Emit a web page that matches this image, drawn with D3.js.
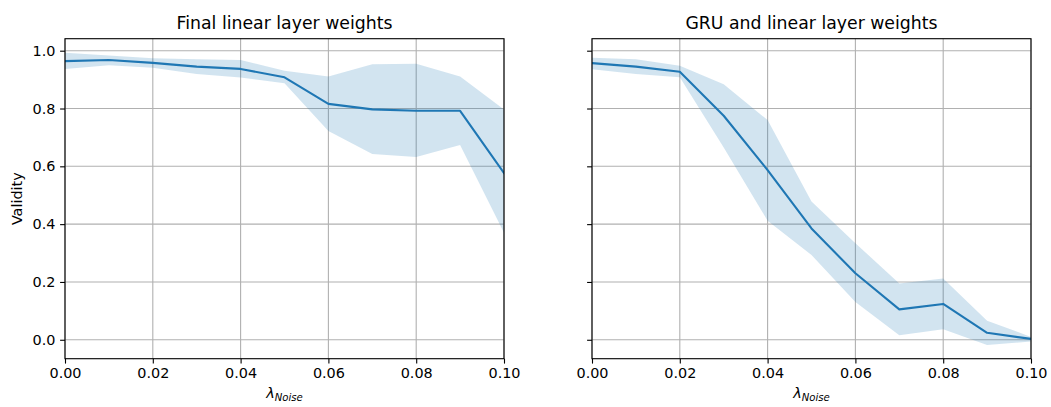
<!DOCTYPE html>
<html>
<head>
<meta charset="utf-8">
<script src="https://cdn.jsdelivr.net/npm/d3@7"></script>
<style>
  body { margin: 0; background: #fff; }
  svg { font-family: "DejaVu Sans", sans-serif; }
</style>
</head>
<body>
<svg id="chart" width="1051" height="407"></svg>
<script>
const noise = [0.00, 0.01, 0.02, 0.03, 0.04, 0.05, 0.06, 0.07, 0.08, 0.09, 0.10];

const linearMean  = [0.964, 0.968, 0.958, 0.945, 0.937, 0.908, 0.816, 0.797, 0.792, 0.792, 0.577];
const linearUpper = [0.993, 0.983, 0.974, 0.970, 0.968, 0.931, 0.911, 0.953, 0.955, 0.911, 0.797];
const linearLower = [0.937, 0.950, 0.941, 0.919, 0.907, 0.887, 0.722, 0.643, 0.632, 0.674, 0.370];

const gruMean  = [0.957, 0.945, 0.927, 0.775, 0.587, 0.385, 0.230, 0.105, 0.124, 0.024, 0.003];
const gruUpper = [0.976, 0.970, 0.948, 0.884, 0.760, 0.478, 0.334, 0.195, 0.212, 0.066, 0.010];
const gruLower = [0.936, 0.919, 0.908, 0.665, 0.412, 0.293, 0.131, 0.016, 0.036, -0.018, -0.006];

const titles = ["Final linear layer weights", "GRU and linear layer weights"];
const xTicks = [0.00, 0.02, 0.04, 0.06, 0.08, 0.10];
const yTicks = [0.0, 0.2, 0.4, 0.6, 0.8, 1.0];

const panels = [
  { title: titles[0], mean: linearMean, upper: linearUpper, lower: linearLower, x0: 65,  x1: 504, yLabels: true },
  { title: titles[1], mean: gruMean,    upper: gruUpper,    lower: gruLower,    x0: 592, x1: 1031, yLabels: false }
];

const plotTop = 38.7, plotBottom = 358.7;
const svg = d3.select("#chart");
const blue = "#1f77b4";
const tickFont = "14.4px";

const y = d3.scaleLinear().domain([-0.0655, 1.0415]).range([plotBottom, plotTop]);

panels.forEach(p => {
  const x = d3.scaleLinear().domain([0, 0.1]).range([p.x0, p.x1]);
  const g = svg.append("g");

  // grid
  g.selectAll(".vg").data(xTicks).enter().append("line")
    .attr("x1", d => x(d)).attr("x2", d => x(d))
    .attr("y1", plotTop).attr("y2", plotBottom)
    .attr("stroke", "#b0b0b0").attr("stroke-width", 1.1);
  g.selectAll(".hg").data(yTicks).enter().append("line")
    .attr("x1", p.x0).attr("x2", p.x1)
    .attr("y1", d => y(d)).attr("y2", d => y(d))
    .attr("stroke", "#b0b0b0").attr("stroke-width", 1.1);

  const data = noise.map((n, i) => ({ n, m: p.mean[i], u: p.upper[i], l: p.lower[i] }));

  const clipId = "clip" + p.x0;
  svg.append("clipPath").attr("id", clipId).append("rect")
    .attr("x", p.x0).attr("y", plotTop).attr("width", p.x1 - p.x0).attr("height", plotBottom - plotTop);

  g.append("path").datum(data)
    .attr("clip-path", `url(#${clipId})`)
    .attr("d", d3.area().x(d => x(d.n)).y0(d => y(d.l)).y1(d => y(d.u)))
    .attr("fill", blue).attr("fill-opacity", 0.2);

  g.append("path").datum(data)
    .attr("clip-path", `url(#${clipId})`)
    .attr("d", d3.line().x(d => x(d.n)).y(d => y(d.m)))
    .attr("fill", "none").attr("stroke", blue).attr("stroke-width", 2.1)
    .attr("stroke-linejoin", "round").attr("stroke-linecap", "square");

  // axes
  const xAxis = d3.axisBottom(x).tickValues(xTicks).tickFormat(d3.format(".2f")).tickSize(4.9).tickPadding(4.6);
  const ax = g.append("g").attr("transform", `translate(0,${plotBottom})`).call(xAxis);
  ax.select(".domain").remove();
  ax.selectAll("line").attr("stroke", "#000").attr("stroke-width", 1.1);
  ax.selectAll("text").attr("font-size", tickFont).attr("fill", "#000").attr("font-family", "DejaVu Sans");

  const yAxis = d3.axisLeft(y).tickValues(yTicks).tickFormat(p.yLabels ? d3.format(".1f") : () => "").tickSize(4.9).tickPadding(4.6);
  const ay = g.append("g").attr("transform", `translate(${p.x0},0)`).call(yAxis);
  ay.select(".domain").remove();
  ay.selectAll("line").attr("stroke", "#000").attr("stroke-width", 1.1);
  ay.selectAll("text").attr("font-size", tickFont).attr("fill", "#000").attr("font-family", "DejaVu Sans");

  // frame
  g.append("rect").attr("x", p.x0).attr("y", plotTop).attr("width", p.x1 - p.x0).attr("height", plotBottom - plotTop)
    .attr("fill", "none").attr("stroke", "#000").attr("stroke-width", 1.1);

  // title
  g.append("text").attr("x", (p.x0 + p.x1) / 2).attr("y", 29)
    .attr("text-anchor", "middle").attr("font-size", "17.3px").attr("fill", "#000").text(p.title);

  // x label
  const xl = g.append("text").attr("x", (p.x0 + p.x1) / 2).attr("y", 398)
    .attr("text-anchor", "middle").attr("font-size", tickFont).attr("fill", "#000");
  xl.append("tspan").attr("font-style", "italic").text("λ");
  xl.append("tspan").attr("font-style", "italic").attr("font-size", "10.1px").attr("dy", 2.6).text("Noise");
});

svg.append("text")
  .attr("transform", `translate(21.5,${(plotTop + plotBottom) / 2}) rotate(-90)`)
  .attr("text-anchor", "middle").attr("font-size", tickFont).attr("fill", "#000").text("Validity");
</script>
</body>
</html>
